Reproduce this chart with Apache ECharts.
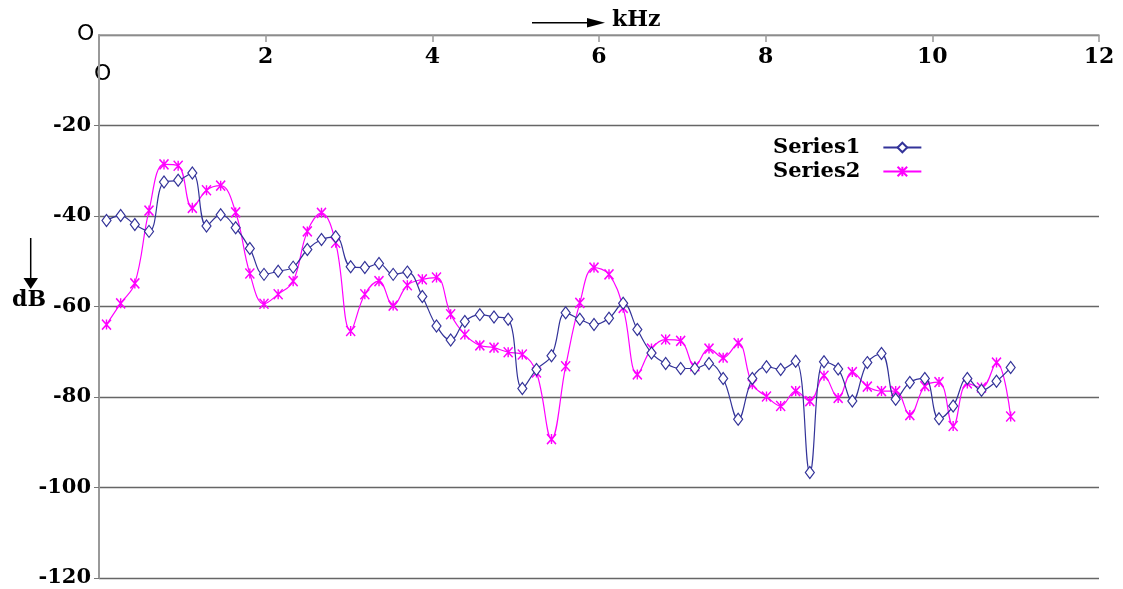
<!DOCTYPE html>
<html>
<head>
<meta charset="utf-8">
<script src="https://cdn.jsdelivr.net/npm/echarts@6/dist/echarts.min.js"></script>
<style>
html,body{margin:0;padding:0;background:#fff;}
#chart{width:1123px;height:589px;}
</style>
</head>
<body>
<div id="chart"></div>
<script>
// frequency of each point (kHz)
var freqs = [0.09,0.26,0.43,0.60,0.78,0.95,1.12,1.29,1.46,1.64,1.81,1.98,2.15,2.33,2.50,2.67,
  2.84,3.02,3.19,3.36,3.53,3.70,3.88,4.05,4.22,4.39,4.57,4.74,4.91,5.08,5.25,5.43,
  5.60,5.77,5.94,6.12,6.29,6.46,6.63,6.80,6.98,7.15,7.32,7.49,7.67,7.84,8.01,8.18,
  8.36,8.53,8.70,8.87,9.04,9.22,9.39,9.56,9.73,9.91,10.08,10.25,10.42,10.59,10.77,10.94];
// dB values
var series1 = [-41.0,-39.9,-41.9,-43.4,-32.5,-32.1,-30.5,-42.2,-39.7,-42.6,-47.2,-52.9,-52.2,-51.3,-47.4,-45.2,
  -44.6,-51.2,-51.4,-50.5,-52.9,-52.4,-57.8,-64.3,-67.4,-63.3,-61.8,-62.3,-62.8,-78.1,-73.9,-70.9,
  -61.4,-62.8,-64.0,-62.6,-59.3,-65.1,-70.3,-72.6,-73.7,-73.7,-72.6,-75.9,-84.9,-75.9,-73.3,-73.9,
  -72.1,-96.7,-72.2,-73.8,-80.9,-72.4,-70.4,-80.5,-76.8,-75.9,-84.8,-82.0,-75.9,-78.5,-76.5,-73.5];
var series2 = [-64.0,-59.3,-54.9,-38.8,-28.6,-28.9,-38.2,-34.3,-33.3,-39.2,-52.7,-59.4,-57.3,-54.4,-43.4,-39.3,
  -45.9,-65.4,-57.3,-54.4,-59.8,-55.3,-54.0,-53.6,-61.7,-66.2,-68.6,-69.1,-70.1,-70.6,-74.6,-89.3,
  -73.2,-59.2,-51.4,-52.9,-60.3,-75.0,-69.3,-67.3,-67.6,-73.2,-69.3,-71.3,-68.1,-77.2,-79.9,-82.0,
  -78.7,-80.9,-75.3,-80.2,-74.5,-77.7,-78.7,-78.7,-84.0,-77.6,-76.7,-86.4,-77.0,-77.9,-72.4,-84.3];
var seriesNames = ['Series1','Series2'];
var xTitle = 'kHz';
var yTitle = 'dB';

function pairs(vals){ return vals.map(function(v,i){ return [freqs[i], v]; }); }

var chart = echarts.init(document.getElementById('chart'), null, {renderer:'canvas'});
chart.setOption({
  animation:false,
  backgroundColor:'#fff',
  grid:{left:99, right:24, top:35, bottom:11, containLabel:false},
  xAxis:{
    type:'value', position:'top', min:0, max:12, interval:2,
    axisLine:{show:true, onZero:false, lineStyle:{color:'#999', width:1.5}},
    axisTick:{show:true, inside:true, length:7, lineStyle:{color:'#999', width:1.5}},
    axisLabel:{inside:true, margin:11, showMinLabel:false, fontFamily:'DejaVu Serif', fontWeight:'bold', fontSize:22, color:'#000'},
    splitLine:{show:false}
  },
  yAxis:{
    type:'value', min:-120, max:0, interval:20,
    axisLine:{show:true, lineStyle:{color:'#999', width:2}},
    axisTick:{show:true, length:5, lineStyle:{color:'#777'}},
    axisLabel:{margin:8, showMaxLabel:false, fontFamily:'DejaVu Serif', fontWeight:'bold', fontSize:21, color:'#000'},
    splitLine:{show:true, lineStyle:{color:'#666', width:1.3}}
  },
  legend:{
    orient:'vertical', left:768, top:132, align:'right', itemGap:3,
    itemWidth:38, itemHeight:12,
    textStyle:{fontFamily:'DejaVu Serif', fontWeight:'bold', fontSize:21, color:'#000', padding:[0,18,0,0]},
    data:seriesNames
  },
  series:[
    {name:seriesNames[0], type:'line', data:pairs(series1), smooth:0.4,
     symbol:'diamond', symbolSize:[9,12], showAllSymbol:true,
     itemStyle:{color:'#fff', borderColor:'#333399', borderWidth:1.2},
     lineStyle:{color:'#333399', width:1.2}, z:3},
    {name:seriesNames[1], type:'line', data:pairs(series2), smooth:0.4,
     symbol:'path://M0,0L10,10M10,0L0,10M5,0L5,10', symbolSize:[9,10], showAllSymbol:true,
     itemStyle:{color:'#ff00ff', borderColor:'#ff00ff', borderWidth:1.5},
     lineStyle:{color:'#ff00ff', width:1.2}, z:2}
  ],
  graphic:[
    {type:'line', shape:{x1:532, y1:22.7, x2:592, y2:22.7}, style:{stroke:'#000', lineWidth:1.5}},
    {type:'polygon', shape:{points:[[587,18],[605,22.7],[587,27.5]]}, style:{fill:'#000'}},
    {type:'text', left:612, top:9, style:{text:xTitle, font:'bold 22px "DejaVu Serif"', fill:'#000'}},
    {type:'line', shape:{x1:30.7, y1:238, x2:30.7, y2:280}, style:{stroke:'#000', lineWidth:1.5}},
    {type:'polygon', shape:{points:[[23.5,278],[38,278],[30.7,289]]}, style:{fill:'#000'}},
    {type:'text', left:12, top:289, style:{text:yTitle, font:'bold 22px "DejaVu Serif"', fill:'#000'}},
    {type:'text', left:77, top:23, style:{text:'O', font:'22px "DejaVu Sans"', fill:'#000'}},
    {type:'text', left:94, top:63, style:{text:'O', font:'22px "DejaVu Sans"', fill:'#000'}}
  ]
});
</script>
</body>
</html>
